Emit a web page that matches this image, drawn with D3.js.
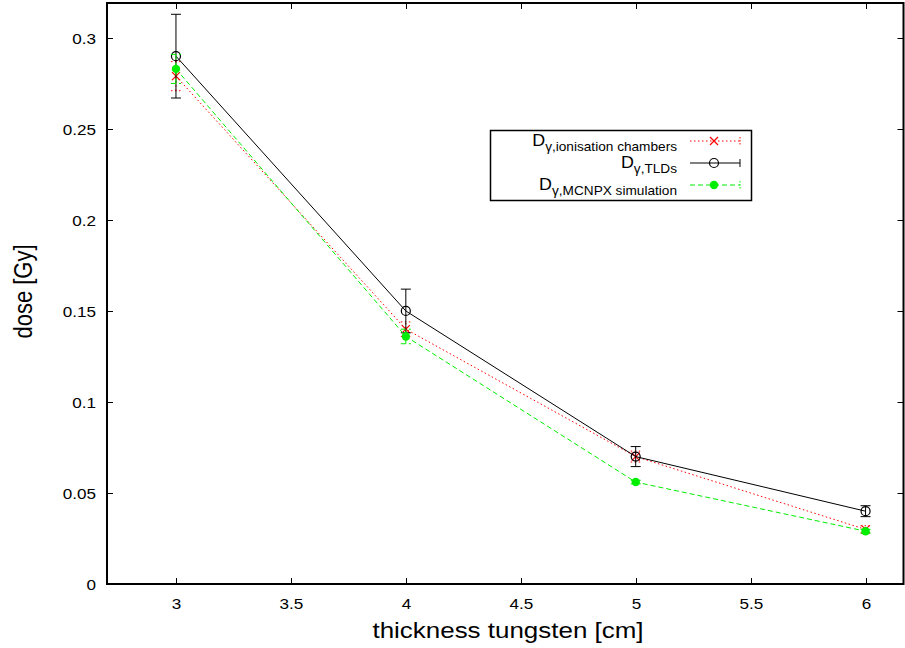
<!DOCTYPE html>
<html>
<head>
<meta charset="utf-8">
<script src="https://cdn.jsdelivr.net/npm/d3@7"></script>
<style>
  body { margin: 0; background: #fff; }
  svg { display: block; font-family: "Liberation Sans", Arial, sans-serif; }
</style>
</head>
<body>
<div id="chart"></div>
<script>
// 数据
const thickness = [3, 4, 5, 6];
const doseIon = [0.279, 0.14, 0.07, 0.03];
const errIon = [0.008, 0.004, 0.003, 0.002];
const doseTLD = [0.29, 0.15, 0.07, 0.04];
const errTLD = [0.023, 0.012, 0.0055, 0.003];
const doseMC = [0.283, 0.136, 0.056, 0.029];
const errMC = [0.008, 0.004, 0.001, 0.001];
const xTicks = [3, 3.5, 4, 4.5, 5, 5.5, 6];
const yTicks = [0, 0.05, 0.1, 0.15, 0.2, 0.25, 0.3];

const width = 905, height = 648;
const margin = { left: 107, right: 1.5, top: 3, bottom: 64 };
const stretch = 1.18;   // 原图文字横向略宽

const svg = d3.select('#chart').append('svg')
  .attr('width', width).attr('height', height);

const x = d3.scaleLinear().domain([2.7, 6.165]).range([margin.left, width - margin.right]);
const y = d3.scaleLinear().domain([0, 0.3192]).range([height - margin.bottom, margin.top]);

const x0 = x.range()[0], x1 = x.range()[1];
const y0 = y.range()[0], y1 = y.range()[1];

function label(g, tx, ty, size, anchor, str) {
  return g.append('text')
    .attr('transform', `translate(${tx},${ty}) scale(${stretch},1)`)
    .attr('text-anchor', anchor).attr('font-size', size).text(str);
}

// 坐标轴（刻度朝内，四边镜像）
const gAxes = svg.append('g');
const tickLen = 6;
xTicks.forEach(t => {
  const px = Math.round(x(t)) + 0.5;
  gAxes.append('line').attr('x1', px).attr('x2', px).attr('y1', y0).attr('y2', y0 - tickLen)
    .attr('stroke', '#000').attr('stroke-width', 1);
  gAxes.append('line').attr('x1', px).attr('x2', px).attr('y1', y1).attr('y2', y1 + tickLen)
    .attr('stroke', '#000').attr('stroke-width', 1);
  label(gAxes, px, y0 + 25, 14.5, 'middle', d3.format('')(t));
});
yTicks.forEach(t => {
  const py = Math.round(y(t)) + 0.5;
  gAxes.append('line').attr('x1', x0).attr('x2', x0 + tickLen).attr('y1', py).attr('y2', py)
    .attr('stroke', '#000').attr('stroke-width', 1);
  gAxes.append('line').attr('x1', x1).attr('x2', x1 - tickLen).attr('y1', py).attr('y2', py)
    .attr('stroke', '#000').attr('stroke-width', 1);
  label(gAxes, x0 - 11, py + 5, 14.5, 'end', d3.format('')(t));
});
gAxes.append('rect')
  .attr('x', x0).attr('y', y1).attr('width', x1 - x0).attr('height', y0 - y1)
  .attr('fill', 'none').attr('stroke', '#000').attr('stroke-width', 2);

// 轴标题
label(svg, 508, 638, 22, 'middle', 'thickness tungsten [cm]');
svg.append('text')
  .attr('transform', `translate(32,${(y0 + y1) / 2 - 2}) scale(${stretch},1) rotate(-90)`)
  .attr('text-anchor', 'middle').attr('font-size', 22).text('dose [Gy]');

const series = [
  { name: 'ionisation chambers', vals: doseIon, errs: errIon, color: '#ff0000', dash: '1.5,2.5', marker: 'cross' },
  { name: 'TLDs', vals: doseTLD, errs: errTLD, color: '#000000', dash: null, marker: 'circle' },
  { name: 'MCNPX simulation', vals: doseMC, errs: errMC, color: '#00ee00', dash: '5,3', marker: 'dot' }
];

function drawMarker(g, type, cx, cy, color) {
  if (type === 'cross') {
    const s = 4;
    g.append('path').attr('d', `M${cx - s},${cy - s}L${cx + s},${cy + s}M${cx - s},${cy + s}L${cx + s},${cy - s}`)
      .attr('stroke', color).attr('stroke-width', 1.2).attr('fill', 'none');
  } else if (type === 'circle') {
    g.append('circle').attr('cx', cx).attr('cy', cy).attr('r', 4.5)
      .attr('fill', 'none').attr('stroke', color).attr('stroke-width', 1.2);
  } else {
    g.append('circle').attr('cx', cx).attr('cy', cy).attr('r', 4.2).attr('fill', color);
  }
}

const plot = svg.append('g');
const line = d3.line().x(d => x(d[0])).y(d => y(d[1]));
const capW = 5;

series.forEach(s => {
  const g = plot.append('g');
  const pts = thickness.map((t, i) => [t, s.vals[i]]);
  // 误差棒
  pts.forEach((p, i) => {
    const px = x(p[0]);
    const yl = y(p[1] - s.errs[i]), yh = y(p[1] + s.errs[i]);
    g.append('path')
      .attr('d', `M${px},${yl}L${px},${yh}M${px - capW},${yl}L${px + capW},${yl}M${px - capW},${yh}L${px + capW},${yh}`)
      .attr('stroke', s.color).attr('stroke-width', 1)
      .attr('stroke-dasharray', s.dash).attr('fill', 'none');
  });
  g.append('path').datum(pts).attr('d', line)
    .attr('fill', 'none').attr('stroke', s.color).attr('stroke-width', 1)
    .attr('stroke-dasharray', s.dash);
  pts.forEach(p => drawMarker(g, s.marker, x(p[0]), y(p[1]), s.color));
});

// 图例
const legend = svg.append('g');
legend.append('rect').attr('x', 490.5).attr('y', 130.5).attr('width', 261).attr('height', 70)
  .attr('fill', '#fff').attr('stroke', '#000').attr('stroke-width', 1.5);
series.forEach((s, i) => {
  const ly = 141 + i * 22;
  const t = legend.append('text')
    .attr('transform', `translate(677,${ly + 5}) scale(1.05,1)`)
    .attr('text-anchor', 'end').attr('font-size', 17);
  t.append('tspan').text('D');
  t.append('tspan').attr('font-size', 13).attr('dy', 5).text('γ,' + s.name);
  legend.append('line').attr('x1', 690).attr('x2', 740).attr('y1', ly).attr('y2', ly)
    .attr('stroke', s.color).attr('stroke-width', 1).attr('stroke-dasharray', s.dash);
  legend.append('line').attr('x1', 740).attr('x2', 740).attr('y1', ly - 4).attr('y2', ly + 4)
    .attr('stroke', s.color).attr('stroke-width', 1).attr('stroke-dasharray', s.dash ? '1.5,1.5' : null);
  drawMarker(legend, s.marker, 714, ly, s.color);
});
</script>
</body>
</html>
